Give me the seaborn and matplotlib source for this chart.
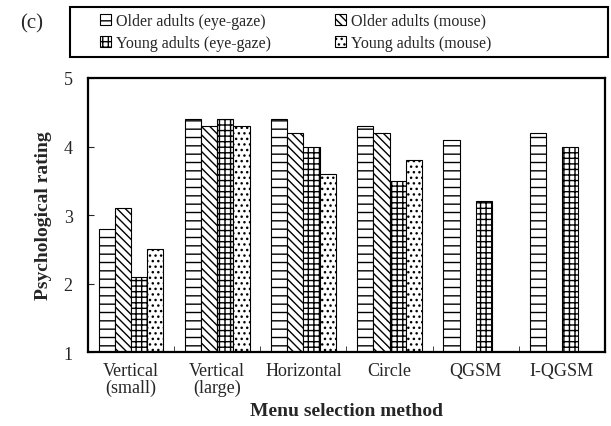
import numpy as np
import pandas as pd
import matplotlib
matplotlib.use("Agg")
import matplotlib.pyplot as plt
import seaborn as sns
from matplotlib.patches import Patch, Rectangle

# ---- data ----
methods = ["Vertical\n(small)", "Vertical\n(large)", "Horizontal", "Circle", "QGSM", "I-QGSM"]
groups = ["Older adults (eye-gaze)", "Older adults (mouse)",
          "Young adults (eye-gaze)", "Young adults (mouse)"]
older_gaze = [2.8, 4.4, 4.4, 4.3, 4.1, 4.2]
older_mouse = [3.1, 4.3, 4.2, 4.2, np.nan, np.nan]
young_gaze = [2.1, 4.4, 4.0, 3.5, 3.2, 4.0]
young_mouse = [2.5, 4.3, 3.6, 3.8, np.nan, np.nan]
hatches = ["--", "\\\\\\\\", "+++", "..."]

series = [older_gaze, older_mouse, young_gaze, young_mouse]
df = pd.DataFrame({
    "method": methods * len(groups),
    "group": [g for g in groups for _ in methods],
    "rating": [v for s in series for v in s],
})

sns.set_style("white")
plt.rcParams["font.family"] = ["Liberation Serif", "DejaVu Serif"]
plt.rcParams["hatch.linewidth"] = 1.0

fig = plt.figure(figsize=(6.11, 4.27), dpi=100)
ax = fig.add_axes([0.144, 0.173, 0.846, 0.642])

sns.barplot(data=df, x="method", y="rating", hue="group", order=methods,
            hue_order=groups, width=0.75, gap=0, ax=ax, legend=False,
            palette=["white"] * 4, edgecolor="black",
            linewidth=0.8, saturation=1)

for cont, h in zip(ax.containers, hatches):
    for bar in cont:
        bar.set_hatch(h)
        bar.set_edgecolor("black")

ax.set_ylim(1, 5)
ax.set_yticks([1, 2, 3, 4, 5])
ax.set_xlim(-0.5, len(methods) - 0.5)
ax.tick_params(axis="y", direction="in", length=4, labelsize=13, left=True, pad=11)
ax.tick_params(axis="x", length=0, labelsize=13, pad=7)
for lab in ax.get_xticklabels():
    lab.set_linespacing(1.0)
ax.set_xticks(np.arange(len(methods) - 1) + 0.5, minor=True)
ax.tick_params(axis="x", which="minor", direction="in", length=4, bottom=True)
for sp in ax.spines.values():
    sp.set_linewidth(1.6)
    sp.set_color("black")

ax.set_xlabel("Menu selection method", fontsize=14, fontweight="bold", labelpad=4)
ax.set_ylabel("Psychological rating", fontsize=14, fontweight="bold", labelpad=8)

# legend: row-wise order inside a hand-drawn box
order = [0, 2, 1, 3]
handles = [Patch(facecolor="white", edgecolor="black", hatch=hatches[i], linewidth=0.8) for i in order]
labels = [groups[i] for i in order]
fig.legend(handles, labels, loc="center left", ncol=2,
           bbox_to_anchor=(100 / 611, 1 - 33 / 427),
           fontsize=11.5, frameon=False, borderaxespad=0,
           handlelength=0.7, handleheight=0.7, handletextpad=0.3,
           columnspacing=4.0, labelspacing=0.4, borderpad=0)
fig.add_artist(Rectangle((70 / 611, 1 - 58 / 427), 538 / 611, 50 / 427,
                         transform=fig.transFigure, fill=False,
                         edgecolor="black", linewidth=1.5))

fig.text(0.033, 0.945, "(c)", fontsize=15, ha="left", va="center")

fig.savefig("out.png", dpi=100, facecolor="white")
